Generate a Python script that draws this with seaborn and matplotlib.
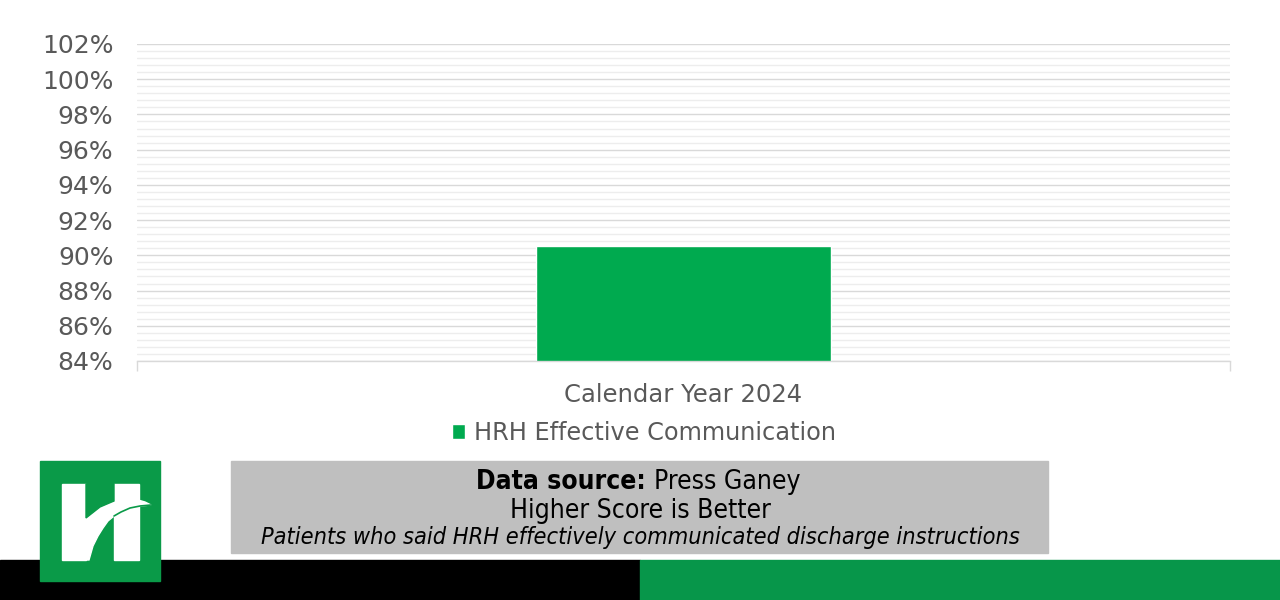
import matplotlib

matplotlib.use("Agg")
import matplotlib.pyplot as plt
import seaborn as sns
import pandas as pd
from matplotlib.patches import Rectangle, Polygon
from matplotlib.ticker import MultipleLocator, FixedLocator, PercentFormatter

# ── Data ────────────────────────────────────────────────────────────────
categories = ["Calendar Year 2024"]
series = ["HRH Effective Communication"]
values = [0.9055]
y_ticks = [0.84, 0.86, 0.88, 0.90, 0.92, 0.94, 0.96, 0.98, 1.00, 1.02]

BAR_GREEN = "#00AA4F"
LOGO_GREEN = "#0A9A48"
FOOT_GREEN = "#07964A"
TEXT_GREY = "#595959"

sns.set_theme(style="white")
plt.rcParams["font.family"] = ["DejaVu Sans"]

df = pd.DataFrame({"category": categories, "series": series, "value": values})

fig = plt.figure(figsize=(12.8, 6), dpi=100)
ax = fig.add_axes([137 / 1280, 1 - 361 / 600, (1230 - 137) / 1280, (361 - 44) / 600])

sns.barplot(
    data=df, x="category", y="value", hue="series",
    palette=[BAR_GREEN], width=0.27, ax=ax, saturation=1, legend=True,
)

ax.set_xlim(-0.5, 0.5)
ax.set_ylim(y_ticks[0], y_ticks[-1])
ax.yaxis.set_major_locator(FixedLocator(y_ticks))
ax.yaxis.set_minor_locator(MultipleLocator(0.004))
ax.yaxis.set_major_formatter(PercentFormatter(1.0, decimals=0))
ax.grid(axis="y", which="major", color="#D9D9D9", linewidth=1)
ax.grid(axis="y", which="minor", color="#EDEDED", linewidth=1)
ax.set_axisbelow(True)

for side in ["top", "right", "left"]:
    ax.spines[side].set_visible(False)
ax.spines["bottom"].set_color("#D9D9D9")
ax.spines["bottom"].set_linewidth(1)

ax.tick_params(axis="y", which="both", length=0, labelsize=18,
               labelcolor=TEXT_GREY, pad=17)
ax.tick_params(axis="x", which="major", length=0, labelsize=17.5,
               labelcolor=TEXT_GREY, pad=15.5)
ax.xaxis.set_minor_locator(FixedLocator([-0.5, 0.5]))
ax.tick_params(axis="x", which="minor", length=7, color="#D9D9D9",
               bottom=True, width=1)
ax.set_xlabel("")
ax.set_ylabel("")

handles, labels = ax.get_legend_handles_labels()
ax.get_legend().remove()
fig.legend(handles, labels, loc="center", bbox_to_anchor=(644 / 1280, 1 - 433 / 600),
           frameon=False, fontsize=17.3, handlelength=0.55, handleheight=0.55,
           handletextpad=0.35, labelcolor=TEXT_GREY)

# ── Footer overlay (pixel coordinates) ─────────────────────────────────
ov = fig.add_axes([0, 0, 1, 1], zorder=-1)
ov.set_xlim(0, 1280)
ov.set_ylim(600, 0)
ov.axis("off")

ov.add_patch(Rectangle((0, 560), 640, 40, color="black"))
ov.add_patch(Rectangle((640, 560), 640, 40, color=FOOT_GREEN))
ov.add_patch(Rectangle((231, 461), 817, 92, color="#BFBFBF"))

# logo
ov.add_patch(Rectangle((40, 461), 120, 120, color=LOGO_GREEN, zorder=3))
ov.add_patch(Rectangle((62, 484), 24, 76, color="white", zorder=4))
ov.add_patch(Rectangle((114, 484), 25, 76, color="white", zorder=4))
swoosh_upper = [(86, 518), (93, 512), (100, 507), (110, 503), (120, 501),
                (130, 500), (138, 500), (145, 502), (151, 505)]
swoosh_lower = [(151, 505), (140, 506), (130, 508), (121, 512), (114, 516),
                (108, 521), (103, 528), (98, 536), (93, 546), (89, 560)]
ov.add_patch(Polygon(swoosh_upper + swoosh_lower + [(86, 560)],
                     closed=True, color="white", zorder=4))
gap_x, gap_y = zip(*swoosh_lower[:5])
ov.plot(gap_x, gap_y, color=LOGO_GREEN, linewidth=1.2, zorder=5)
# green notch between the bars above the swoosh
ov.add_patch(Polygon([(86, 484), (114, 484), (114, 501), (100, 507), (86, 518)],
                     closed=True, color=LOGO_GREEN, zorder=4))

box_font = dict(fontsize=19, color="black", fontstretch="condensed")
ov.text(646, 482, "Data source:", ha="right", va="center", fontweight="bold", **box_font)
ov.text(654, 482, "Press Ganey", ha="left", va="center", **box_font)
ov.text(640, 511, "Higher Score is Better", ha="center", va="center", **box_font)
ov.text(640, 537.5, "Patients who said HRH effectively communicated discharge instructions",
        ha="center", va="center", fontsize=16.8, style="italic", color="black",
        fontstretch="condensed")

fig.savefig("out.png", dpi=100)
